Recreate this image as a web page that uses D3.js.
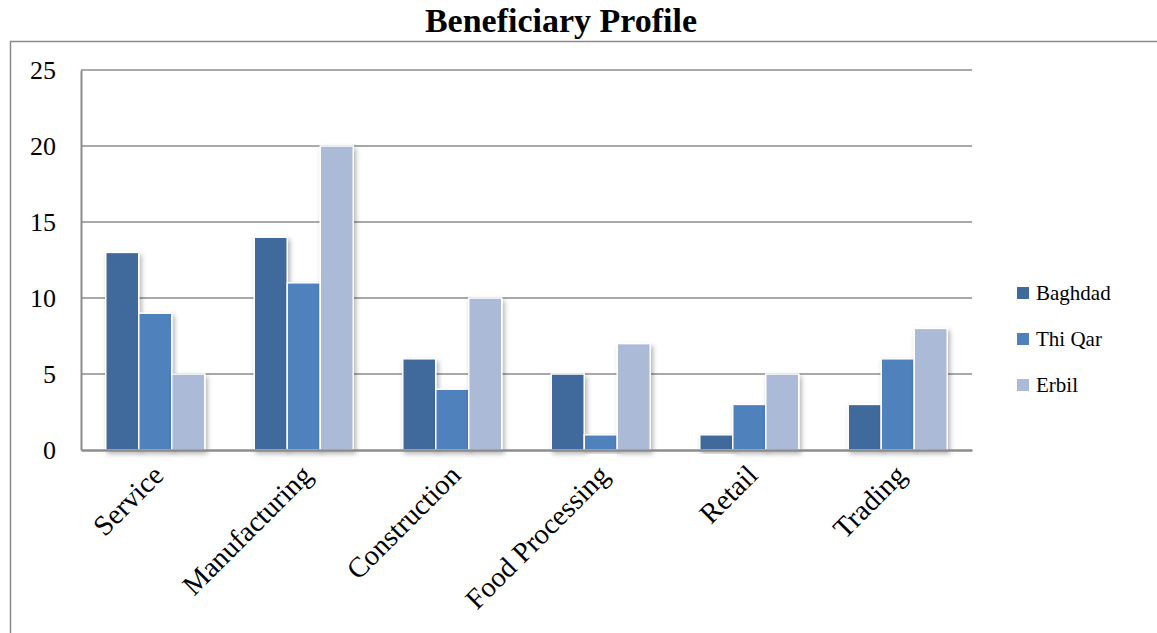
<!DOCTYPE html>
<html>
<head>
<meta charset="utf-8">
<script src="https://cdn.jsdelivr.net/npm/d3@7"></script>
<style>
  body { margin: 0; background: #fff; }
  svg { display: block; font-family: "Liberation Serif", "DejaVu Serif", serif; }
</style>
</head>
<body>
<div id="container"></div>
<script>
const categories = ["Service", "Manufacturing", "Construction", "Food Processing", "Retail", "Trading"];
const seriesNames = ["Baghdad", "Thi Qar", "Erbil"];
const baghdad = [13, 14, 6, 5, 1, 3];
const thiQar = [9, 11, 4, 1, 3, 6];
const erbil = [5, 20, 10, 7, 5, 8];
const yTicks = [0, 5, 10, 15, 20, 25];
const colors = ["#406a9c", "#4f81bd", "#aabad7"];

const w = 1157;
const h = 633;
const plotLeft = 81, plotRight = 972, plotTop = 70, plotBottom = 450;

const values = [baghdad, thiQar, erbil];
const data = categories.map((c, i) => ({
  cat: c,
  vals: seriesNames.map((s, j) => ({ series: s, value: values[j][i] }))
}));

const svg = d3.select("#container")
  .append("svg")
  .attr("width", w)
  .attr("height", h);

const defs = svg.append("defs");
const shadow = defs.append("filter")
  .attr("id", "shadow")
  .attr("x", "-30%").attr("y", "-10%")
  .attr("width", "160%").attr("height", "130%");
shadow.append("feDropShadow")
  .attr("dx", 2).attr("dy", 3)
  .attr("stdDeviation", 2.5)
  .attr("flood-color", "#000")
  .attr("flood-opacity", 0.3);

// outer frame
svg.append("rect")
  .attr("x", 10.5).attr("y", 41.5)
  .attr("width", 1200).attr("height", 700)
  .attr("fill", "none")
  .attr("stroke", "#8a8a8a")
  .attr("stroke-width", 1.5);

svg.append("text")
  .attr("x", 561)
  .attr("y", 32)
  .attr("text-anchor", "middle")
  .attr("font-weight", "bold")
  .attr("font-size", 34)
  .text("Beneficiary Profile");

const x0 = d3.scaleBand()
  .domain(categories)
  .range([plotLeft, plotRight])
  .padding(0);

const x1 = d3.scaleBand()
  .domain(seriesNames)
  .range([x0.bandwidth() / 6, x0.bandwidth() * 5 / 6])
  .padding(0);

const y = d3.scaleLinear()
  .domain([0, 25])
  .range([plotBottom, plotTop]);

// gridlines
svg.append("g")
  .selectAll("line")
  .data(yTicks.filter(t => t > 0))
  .enter()
  .append("line")
  .attr("x1", plotLeft).attr("x2", plotRight)
  .attr("y1", d => y(d)).attr("y2", d => y(d))
  .attr("stroke", "#8c8c8c")
  .attr("stroke-width", 1.5);

// y axis labels
const yAxis = svg.append("g")
  .attr("transform", `translate(${plotLeft},0)`)
  .call(d3.axisLeft(y).tickValues(yTicks).tickSize(0).tickPadding(25));
yAxis.select(".domain")
  .attr("stroke", "#8c8c8c")
  .attr("stroke-width", 2);
yAxis.selectAll("text")
  .attr("font-family", "Liberation Serif, serif")
  .attr("font-size", 26)
  .attr("fill", "#000");

// bars
const groups = svg.append("g")
  .selectAll("g")
  .data(data)
  .enter()
  .append("g")
  .attr("transform", d => `translate(${x0(d.cat)},0)`);

groups.selectAll("rect")
  .data(d => d.vals)
  .enter()
  .append("rect")
  .attr("x", d => x1(d.series))
  .attr("y", d => y(d.value))
  .attr("width", x1.bandwidth())
  .attr("height", d => y(0) - y(d.value))
  .attr("fill", (d, i) => colors[i])
  .attr("stroke", "#fff")
  .attr("stroke-width", 1.5)
  .attr("filter", "url(#shadow)");

// x axis
const xAxis = svg.append("g")
  .attr("transform", `translate(0,${plotBottom})`)
  .call(d3.axisBottom(x0).tickSize(0).tickPadding(0));
xAxis.select(".domain")
  .attr("stroke", "#8c8c8c")
  .attr("stroke-width", 2.5);
xAxis.selectAll("text")
  .attr("font-family", "Liberation Serif, serif")
  .attr("font-size", 28.5)
  .attr("fill", "#000")
  .attr("text-anchor", "end")
  .attr("dy", "0")
  .attr("transform", "translate(10,27) rotate(-45)");

// legend
const legend = svg.append("g")
  .selectAll("g")
  .data(seriesNames)
  .enter()
  .append("g")
  .attr("transform", (d, i) => `translate(1017,${293 + i * 46})`);

legend.append("rect")
  .attr("x", 0).attr("y", -6)
  .attr("width", 12).attr("height", 12)
  .attr("fill", (d, i) => colors[i]);

legend.append("text")
  .attr("x", 19)
  .attr("y", 0)
  .attr("dy", "0.35em")
  .attr("font-size", 21)
  .text(d => d);
</script>
</body>
</html>
